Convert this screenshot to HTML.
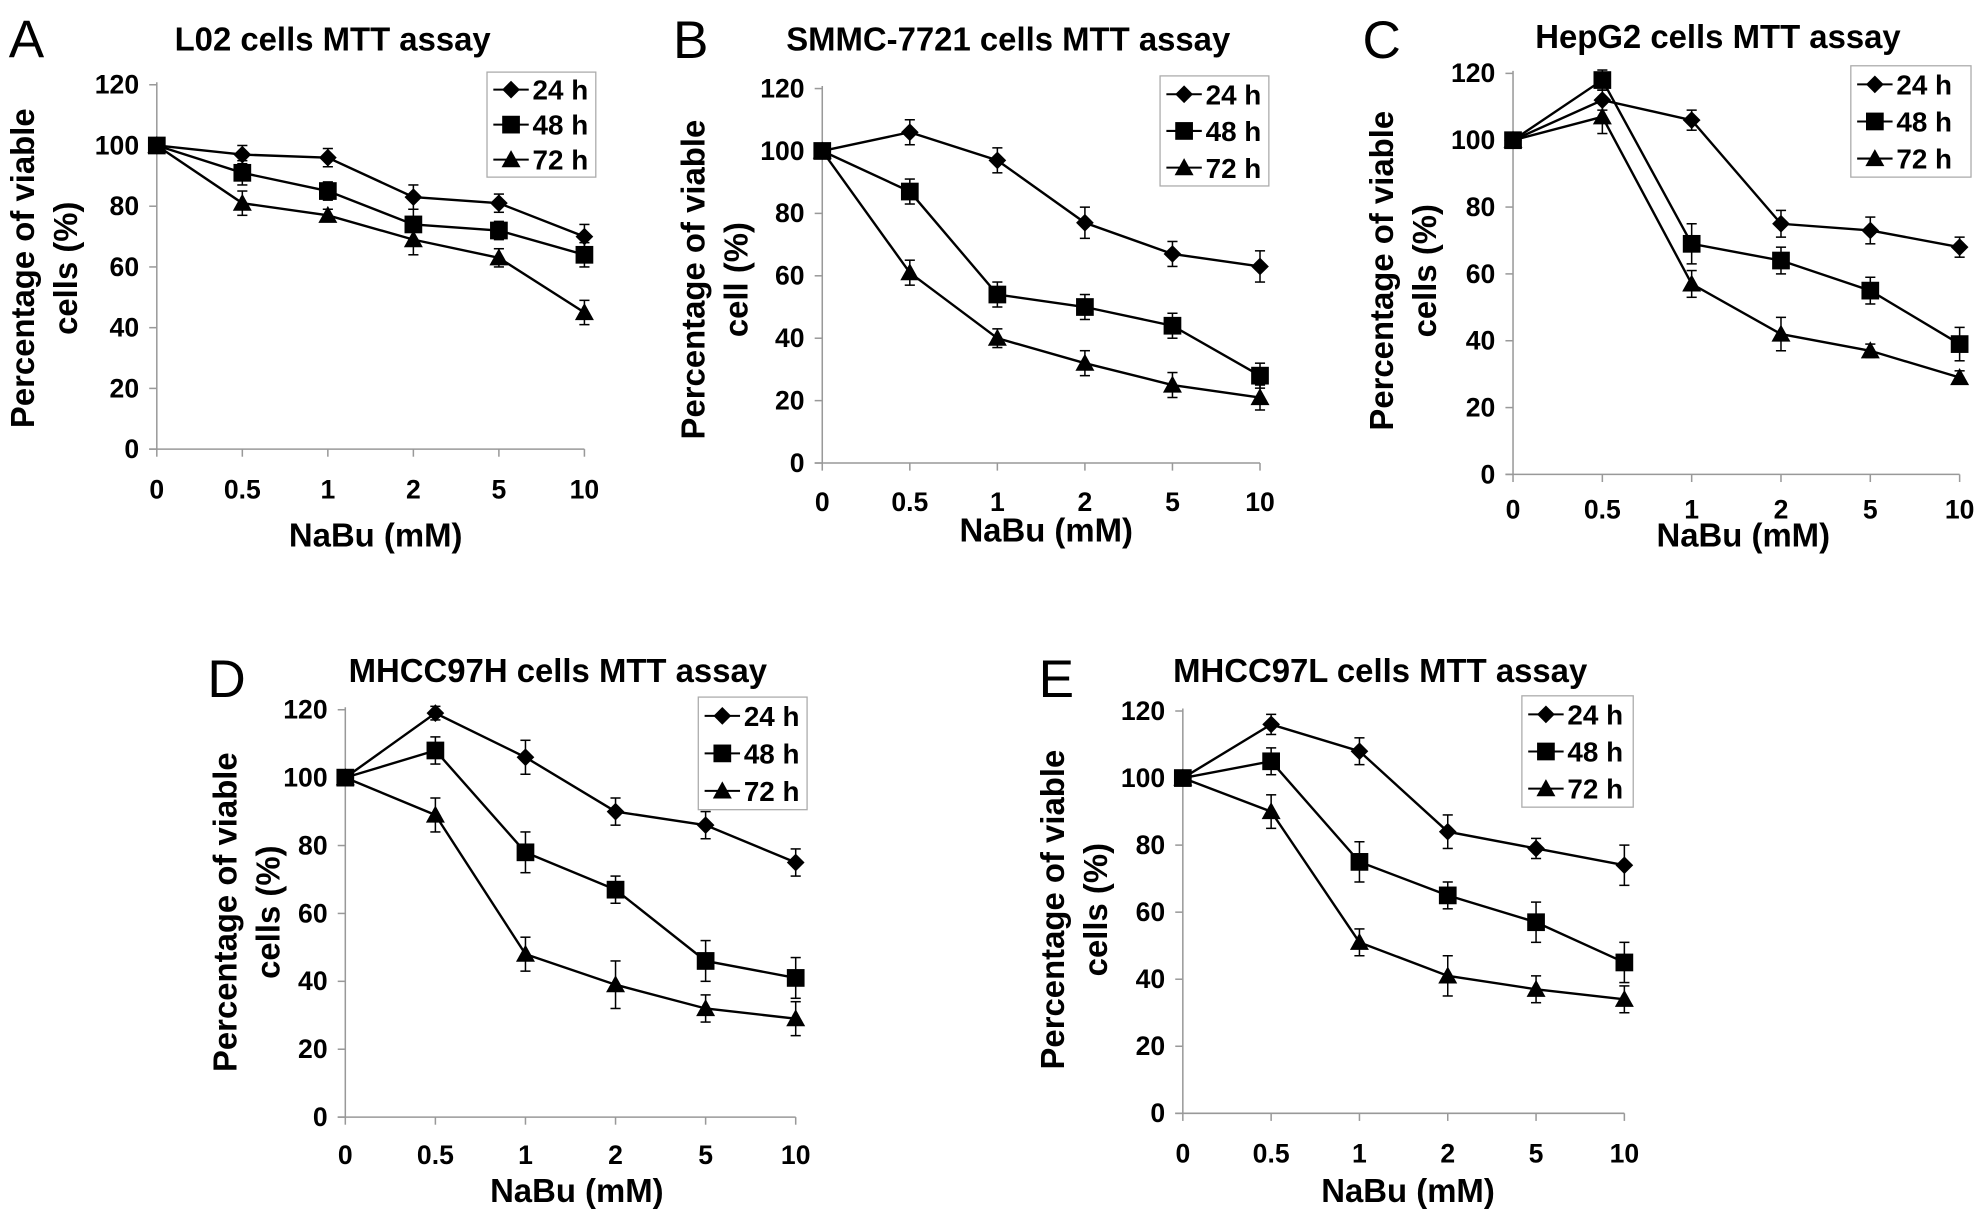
<!DOCTYPE html>
<html><head><meta charset="utf-8"><style>
html,body{margin:0;padding:0;background:#fff;}
svg{display:block;}
text{font-family:"Liberation Sans",Arial,sans-serif;fill:#000;}
</style></head><body>
<svg id="fig" width="1976" height="1212" viewBox="0 0 1560 958" xmlns="http://www.w3.org/2000/svg"></svg>
<script>
// Shared categories / tick labels
const categories = ["0","0.5","1","2","5","10"];
const yTicks = [0,20,40,60,80,100,120];
const seriesNames = ["24 h","48 h","72 h"];

// Panel A: L02
const a24 = [100,97,96,83,81,70];   const a24e = [0,3,3,4,3,4];
const a48 = [100,91,85,74,72,64];   const a48e = [0,4,3,5,3,4];
const a72 = [100,81,77,69,63,45];   const a72e = [0,4,2,5,3,4];
// Panel B: SMMC-7721
const b24 = [100,106,97,77,67,63];  const b24e = [0,4,4,5,4,5];
const b48 = [100,87,54,50,44,28];   const b48e = [0,4,4,4,4,4];
const b72 = [100,61,40,32,25,21];   const b72e = [0,4,3,4,4,4];
// Panel C: HepG2
const c24 = [100,112,106,75,73,68]; const c24e = [0,3,3,4,4,3];
const c48 = [100,118,69,64,55,39];  const c48e = [0,3,6,4,4,5];
const c72 = [100,107,57,42,37,29];  const c72e = [0,5,4,5,2,2];
// Panel D: MHCC97H
const d24 = [100,119,106,90,86,75]; const d24e = [0,2,5,4,4,4];
const d48 = [100,108,78,67,46,41];  const d48e = [0,4,6,4,6,6];
const d72 = [100,89,48,39,32,29];   const d72e = [0,5,5,7,4,5];
// Panel E: MHCC97L
const e24 = [100,116,108,84,79,74]; const e24e = [0,3,4,5,3,6];
const e48 = [100,105,75,65,57,45];  const e48e = [0,4,6,4,6,6];
const e72 = [100,90,51,41,37,34];   const e72e = [0,5,4,6,4,4];

const NS="http://www.w3.org/2000/svg";
const svg=document.getElementById('fig');
function mk(tag,attrs,parent){const e=document.createElementNS(NS,tag);for(const k in attrs)e.setAttribute(k,attrs[k]);(parent||svg).appendChild(e);return e;}

const panels=[
 {id:'a',letter:'A',lx:6,ly:45,title:'L02 cells MTT assay',tx:262,ty:40,x0:123,x1:461,y0:355,y120:67,lgx:384,lgy:57,lgw:86,lgh:83,tly:387,xtx:296,xty:432,ytx:16,yty:212,yl1:'Percentage of viable',yl2:'cells (%)',s:[[a24,a24e],[a48,a48e],[a72,a72e]]},
 {id:'b',letter:'B',lx:531,ly:46,title:'SMMC-7721 cells MTT assay',tx:796,ty:40,x0:649,x1:995,y0:366,y120:70,lgx:916,lgy:60,lgw:86,lgh:87,tly:397,xtx:826,xty:428,ytx:546,yty:221,yl1:'Percentage of viable',yl2:'cell (%)',s:[[b24,b24e],[b48,b48e],[b72,b72e]]},
 {id:'c',letter:'C',lx:1076,ly:46,title:'HepG2 cells MTT assay',tx:1357,ty:38,x0:1195,x1:1548,y0:375,y120:58,lgx:1462,lgy:52,lgw:95,lgh:88,tly:403,xtx:1377,xty:432,ytx:1090,yty:214,yl1:'Percentage of viable',yl2:'cells (%)',s:[[c24,c24e],[c48,c48e],[c72,c72e]]},
 {id:'d',letter:'D',lx:163,ly:551,title:'MHCC97H cells MTT assay',tx:440,ty:539,x0:272,x1:628,y0:883,y120:561,lgx:551,lgy:551,lgw:86,lgh:89,tly:913,xtx:455,xty:950,ytx:176,yty:721,yl1:'Percentage of viable',yl2:'cells (%)',s:[[d24,d24e],[d48,d48e],[d72,d72e]]},
 {id:'e',letter:'E',lx:820,ly:551,title:'MHCC97L cells MTT assay',tx:1090,ty:539,x0:934,x1:1283,y0:880,y120:562,lgx:1202,lgy:550,lgw:88,lgh:88,tly:912,xtx:1112,xty:950,ytx:830,yty:719,yl1:'Percentage of viable',yl2:'cells (%)',s:[[e24,e24e],[e48,e48e],[e72,e72e]]}
];

function marker(g,kind,x,y){
  let m;
  if(kind===0)m=mk('polygon',{points:`${x},${y-7} ${x+7},${y} ${x},${y+7} ${x-7},${y}`,fill:'#000'},g);
  else if(kind===1)m=mk('rect',{x:x-7,y:y-7,width:14,height:14,fill:'#000'},g);
  else m=mk('polygon',{points:`${x},${y-7.5} ${x+7.5},${y+6} ${x-7.5},${y+6}`,fill:'#000'},g);
  return m;
}

panels.forEach(p=>{
  const g=mk('g',{});
  
  
  const xs=i=>p.x0+(p.x1-p.x0)*i/(categories.length-1);
  const ys=v=>p.y0-(p.y0-p.y120)*v/120;
  let t=mk('text',{x:p.lx,y:p.ly,'font-size':42},g);t.textContent=p.letter;
  
  t=mk('text',{x:p.tx,y:p.ty,'font-size':26,'font-weight':'bold','text-anchor':'middle'},g);t.textContent=p.title;
  
  const ax=mk('line',{x1:p.x0,y1:p.y120-2,x2:p.x0,y2:p.y0,stroke:'#999','stroke-width':1.2},g);
  
  const bx=mk('line',{x1:p.x0-6,y1:p.y0,x2:p.x1,y2:p.y0,stroke:'#999','stroke-width':1.2},g);
  
  yTicks.forEach(v=>{
    mk('line',{x1:p.x0-6,y1:ys(v),x2:p.x0,y2:ys(v),stroke:'#999','stroke-width':1.2},g);
    const tt=mk('text',{x:p.x0-14,y:ys(v)+7,'font-size':21,'font-weight':'bold','text-anchor':'end'},g);tt.textContent=v;
    
  });
  categories.forEach((c,i)=>{
    mk('line',{x1:xs(i),y1:p.y0,x2:xs(i),y2:p.y0+6,stroke:'#999','stroke-width':1.2},g);
    const tt=mk('text',{x:xs(i),y:p.tly+7,'font-size':21,'font-weight':'bold','text-anchor':'middle'},g);tt.textContent=c;
    
  });
  t=mk('text',{x:p.xtx,y:p.xty,'font-size':26,'font-weight':'bold','text-anchor':'middle'},g);t.textContent='NaBu (mM)';
  
  const yt=mk('text',{transform:`translate(${p.ytx+10},${p.yty}) rotate(-90)`,'font-size':26,'font-weight':'bold','text-anchor':'middle'},g);
  
  const t1=mk('tspan',{x:0,dy:0},yt);t1.textContent=p.yl1;
  const t2=mk('tspan',{x:0,dy:34},yt);t2.textContent=p.yl2;
  p.s.forEach((sr,k)=>{
    const [vals,errs]=sr;
    const sg=mk('g',{},g);
    
    
    vals.forEach((v,i)=>{
      if(errs[i]>0){
        const x=xs(i),ya=ys(v+errs[i]),yb=ys(v-errs[i]);
        mk('line',{x1:x,y1:ya,x2:x,y2:yb,stroke:'#000','stroke-width':1.2},sg);
        mk('line',{x1:x-4,y1:ya,x2:x+4,y2:ya,stroke:'#000','stroke-width':1.2},sg);
        mk('line',{x1:x-4,y1:yb,x2:x+4,y2:yb,stroke:'#000','stroke-width':1.2},sg);
      }
    });
    const pts=vals.map((v,i)=>xs(i)+','+ys(v)).join(' ');
    const pl=mk('polyline',{points:pts,fill:'none',stroke:'#000','stroke-width':1.9},sg);
    
    vals.forEach((v,i)=>{
      const m=marker(sg,k,xs(i),ys(v));
      
      
    });
  });
  const lg=mk('g',{},g);
  
  mk('rect',{x:p.lgx,y:p.lgy,width:p.lgw,height:p.lgh,fill:'#fff',stroke:'#aaa','stroke-width':1},lg);
  seriesNames.forEach((n,k)=>{
    const yy=p.lgy+p.lgh*(k+0.5)/3;
    const e=mk('g',{},lg);
    
    mk('line',{x1:p.lgx+5,y1:yy,x2:p.lgx+33,y2:yy,stroke:'#000','stroke-width':1.6},e);
    marker(e,k,p.lgx+19,yy);
    const tt=mk('text',{x:p.lgx+36,y:yy+8,'font-size':22,'font-weight':'bold'},e);tt.textContent=n;
  });
});
</script>
</body></html>
